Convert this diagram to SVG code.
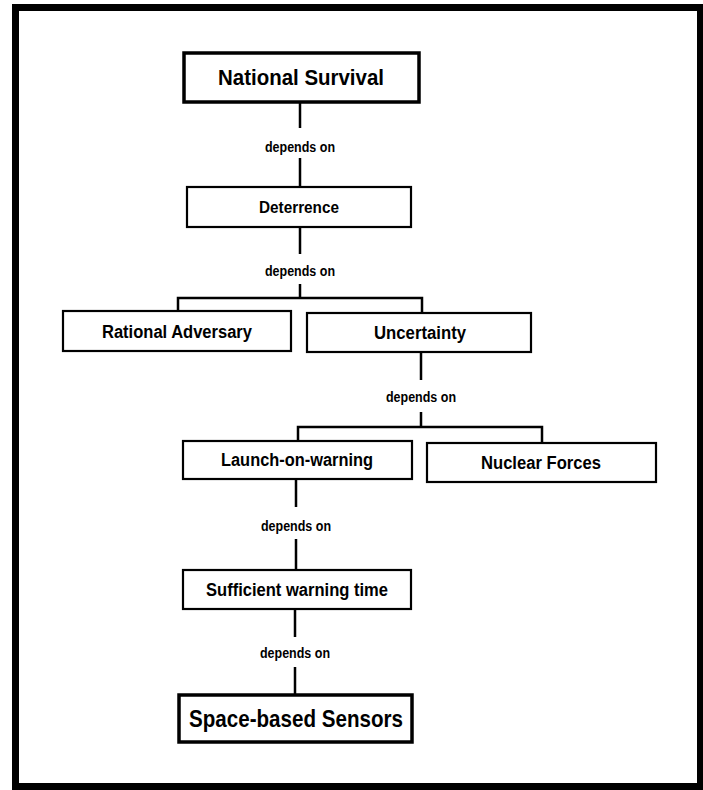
<svg xmlns="http://www.w3.org/2000/svg" width="703" height="790" viewBox="0 0 703 790">
<style>
.box{fill:#fff;stroke:#000;stroke-width:2.2}
.thick{fill:#fff;stroke:#000;stroke-width:3.5}
.lbl{font-family:"Liberation Sans",Arial,sans-serif;font-weight:bold;fill:#000;text-anchor:middle}
.dep{font-family:"Liberation Sans",Arial,sans-serif;font-weight:bold;fill:#000;text-anchor:middle;font-size:14px}
.con{fill:none;stroke:#000;stroke-width:2.5}
</style>
<rect width="703" height="790" fill="#fff"/>
<rect x="15.5" y="7.5" width="685" height="779" fill="none" stroke="#000" stroke-width="7"/>
<g id="connectors">
<path class="con" d="M300 102V128M300 158V187"/>
<text class="dep" x="300" y="152" textLength="70" lengthAdjust="spacingAndGlyphs">depends on</text>
<path class="con" d="M300 227V254M300 284V298M178 311V298H422V313"/>
<text class="dep" x="300" y="276" textLength="70" lengthAdjust="spacingAndGlyphs">depends on</text>
<path class="con" d="M421 352V380M421 412V427M298 441V427H542V443"/>
<text class="dep" x="421" y="402" textLength="70" lengthAdjust="spacingAndGlyphs">depends on</text>
<path class="con" d="M296 479V507M296 539V570"/>
<text class="dep" x="296" y="531" textLength="70" lengthAdjust="spacingAndGlyphs">depends on</text>
<path class="con" d="M295 609V637M295 667V695"/>
<text class="dep" x="295" y="658" textLength="70" lengthAdjust="spacingAndGlyphs">depends on</text>
</g>
<g id="national-survival">
<rect class="thick" x="184" y="53" width="235" height="49"/>
<text class="lbl" x="301" y="85" font-size="22" textLength="166" lengthAdjust="spacingAndGlyphs">National Survival</text>
</g>
<g id="deterrence">
<rect class="box" x="187" y="187" width="224" height="40"/>
<text class="lbl" x="299" y="213" font-size="17" textLength="80" lengthAdjust="spacingAndGlyphs">Deterrence</text>
</g>
<g id="rational-adversary">
<rect class="box" x="63" y="311" width="228" height="40"/>
<text class="lbl" x="177" y="338" font-size="18" textLength="150" lengthAdjust="spacingAndGlyphs">Rational Adversary</text>
</g>
<g id="uncertainty">
<rect class="box" x="307" y="313" width="224" height="39"/>
<text class="lbl" x="420" y="339" font-size="18" textLength="92" lengthAdjust="spacingAndGlyphs">Uncertainty</text>
</g>
<g id="launch-on-warning">
<rect class="box" x="183" y="441" width="229" height="38"/>
<text class="lbl" x="297" y="466" font-size="18" textLength="152" lengthAdjust="spacingAndGlyphs">Launch-on-warning</text>
</g>
<g id="nuclear-forces">
<rect class="box" x="427" y="443" width="229" height="39"/>
<text class="lbl" x="541" y="469" font-size="18" textLength="120" lengthAdjust="spacingAndGlyphs">Nuclear Forces</text>
</g>
<g id="sufficient-warning-time">
<rect class="box" x="183" y="570" width="228" height="39"/>
<text class="lbl" x="297" y="596" font-size="18" textLength="182" lengthAdjust="spacingAndGlyphs">Sufficient warning time</text>
</g>
<g id="space-based-sensors">
<rect class="thick" x="179" y="695" width="233" height="47"/>
<text class="lbl" x="296" y="727" font-size="24" textLength="214" lengthAdjust="spacingAndGlyphs">Space-based Sensors</text>
</g>
</svg>
